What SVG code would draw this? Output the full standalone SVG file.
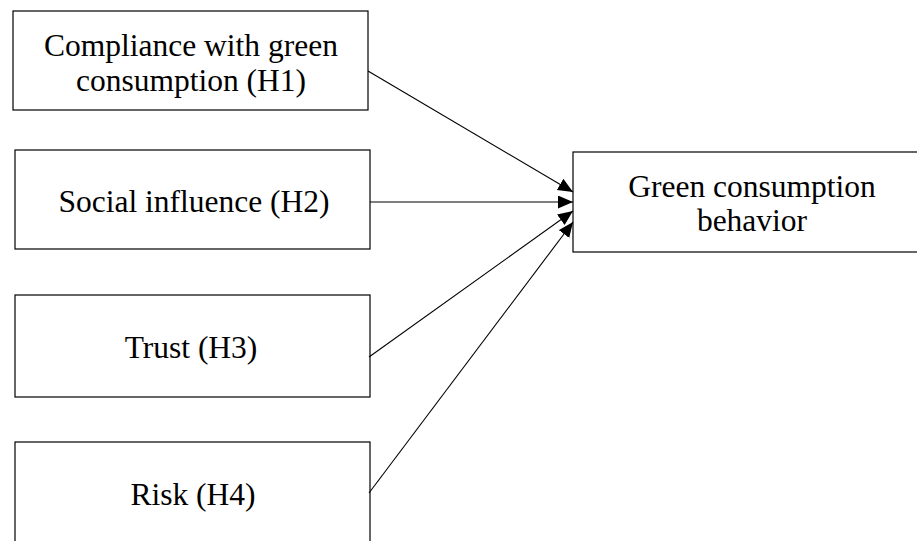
<svg xmlns="http://www.w3.org/2000/svg" width="917" height="541" viewBox="0 0 917 541">
  <style>
    .box { fill: #ffffff; stroke: #000000; stroke-width: 1.2; }
    .lbl { font-family: "Liberation Serif", "Times New Roman", serif; font-size: 31.5px; fill: #000000; text-anchor: middle; }
    .edge { stroke: #000000; stroke-width: 1.1; fill: none; marker-end: url(#head); }
  </style>
  <defs>
    <marker id="head" markerUnits="userSpaceOnUse" markerWidth="17" markerHeight="14" refX="15" refY="6.5" orient="auto">
      <path d="M0,0 L15,6.5 L0,13 Z" fill="#000000"/>
    </marker>
  </defs>

  <!-- predictors -->
  <g id="h1">
    <rect class="box" x="13" y="11" width="355" height="99"/>
    <text class="lbl" x="191" y="56">Compliance with green</text>
    <text class="lbl" x="191" y="91">consumption (H1)</text>
  </g>
  <g id="h2">
    <rect class="box" x="15" y="150" width="355" height="99"/>
    <text class="lbl" x="194" y="212">Social influence (H2)</text>
  </g>
  <g id="h3">
    <rect class="box" x="15" y="295" width="355" height="102"/>
    <text class="lbl" x="191" y="358">Trust (H3)</text>
  </g>
  <g id="h4">
    <rect class="box" x="15" y="442" width="355" height="110"/>
    <text class="lbl" x="193" y="505">Risk (H4)</text>
  </g>

  <!-- outcome -->
  <g id="outcome">
    <rect class="box" x="573" y="152" width="350" height="100"/>
    <text class="lbl" x="752" y="197">Green consumption</text>
    <text class="lbl" x="752" y="231">behavior</text>
  </g>

  <!-- hypothesised paths -->
  <g id="connectors">
    <line class="edge" x1="368" y1="71" x2="573" y2="192"/>
    <line class="edge" x1="370" y1="202" x2="573" y2="202"/>
    <line class="edge" x1="369" y1="357" x2="573" y2="211"/>
    <line class="edge" x1="369" y1="493" x2="573" y2="222"/>
  </g>
</svg>
